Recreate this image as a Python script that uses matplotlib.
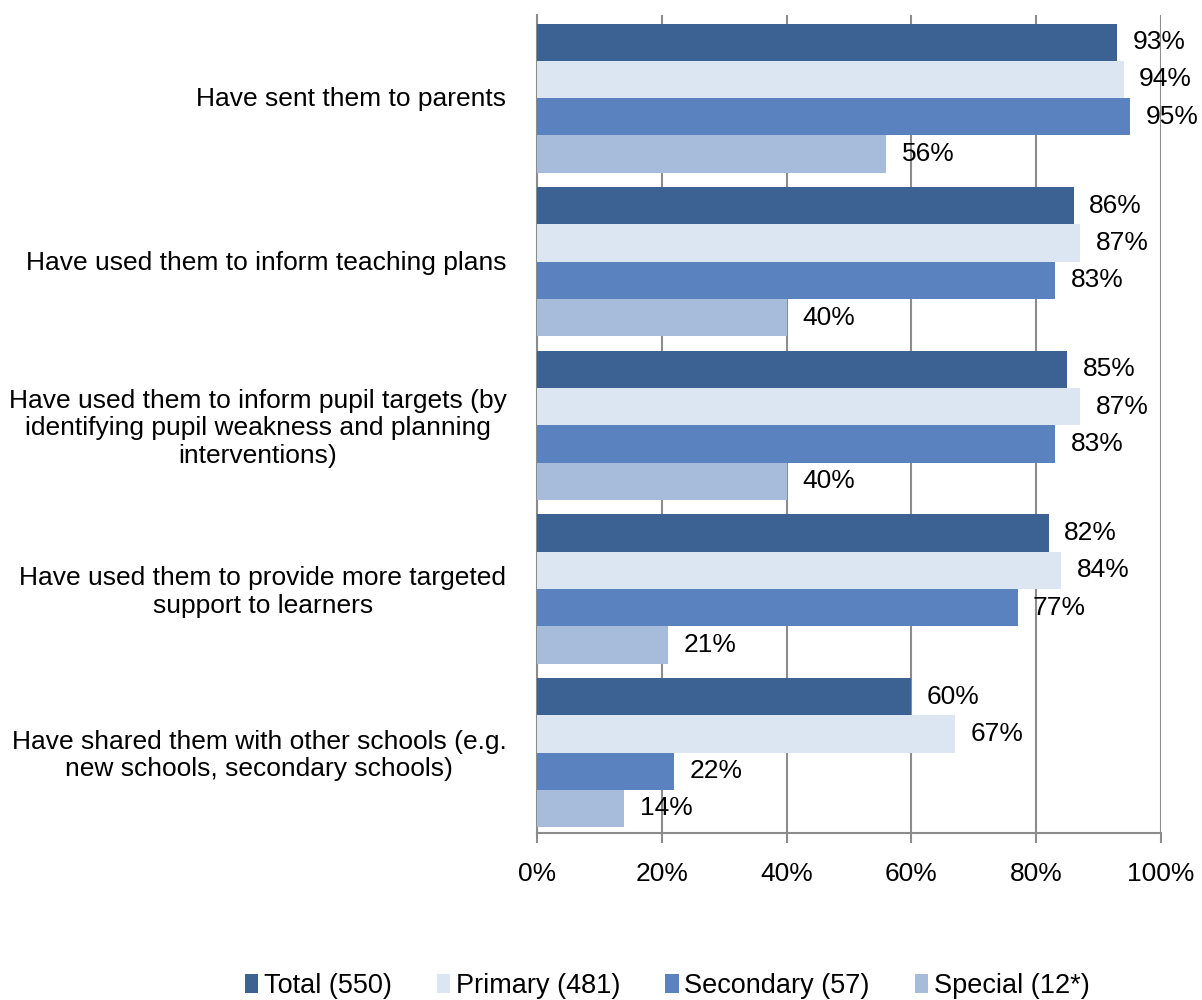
import matplotlib.pyplot as plt
import numpy as np

plt.rcParams['font.family'] = ['Liberation Sans', 'DejaVu Sans']

categories = [
    "Have sent them to parents",
    "Have used them to inform teaching plans",
    "Have used them to inform pupil targets (by\nidentifying pupil weakness and planning\ninterventions)",
    "Have used them to provide more targeted\nsupport to learners",
    "Have shared them with other schools (e.g.\nnew schools, secondary schools)",
]
series_names = ["Total (550)", "Primary (481)", "Secondary (57)", "Special (12*)"]
total = [93, 86, 85, 82, 60]
primary = [94, 87, 87, 84, 67]
secondary = [95, 83, 83, 77, 22]
special = [56, 40, 40, 21, 14]
x_ticks = [0, 20, 40, 60, 80, 100]

colors = ['#3C6193', '#DCE6F2', '#5982BE', '#A7BCDB']
grid_col = '#8C8C8C'
fs = 19

fig = plt.figure(figsize=(12.02, 10), dpi=100)
ax = fig.add_axes([0.4468, 0.167, 0.5191, 0.818])

n = len(categories)
y = np.arange(n)
h = 0.228
offsets = (np.arange(4) - 1.5) * h

for k, (vals, name) in enumerate(zip([total, primary, secondary, special], series_names)):
    pos = y + offsets[k] + 0.008
    ax.barh(pos, vals, height=h, color=colors[k], label=name, zorder=3)
    for p, v in zip(pos, vals):
        ax.text(v + 2.5, p, f"{v}%", va='center', ha='left', fontsize=fs, zorder=4)

ax.set_ylim(n - 0.5, -0.5)
ax.set_xlim(0, 100)
ax.set_yticks(y)
ax.set_yticklabels(categories, fontsize=fs, multialignment='center', linespacing=1.18)
ax.tick_params(axis='y', length=0, pad=22)
ax.set_xticks(x_ticks)
ax.set_xticklabels([f"{t}%" for t in x_ticks], fontsize=fs)
ax.tick_params(axis='x', length=7, width=1.5, color=grid_col, pad=14)

ax.grid(axis='x', color=grid_col, linewidth=1.5, zorder=0)
for s in ['top', 'right']:
    ax.spines[s].set_visible(False)
for s in ['left', 'bottom']:
    ax.spines[s].set_color(grid_col)
    ax.spines[s].set_linewidth(1.5)

handles, labels = ax.get_legend_handles_labels()
fig.legend(handles, labels, loc='center', bbox_to_anchor=(0.555, 0.014), ncol=4,
           frameon=False, fontsize=19.5, handlelength=0.5, handleheight=0.7,
           handletextpad=0.2, columnspacing=1.67)

fig.savefig('out.png', dpi=100)
